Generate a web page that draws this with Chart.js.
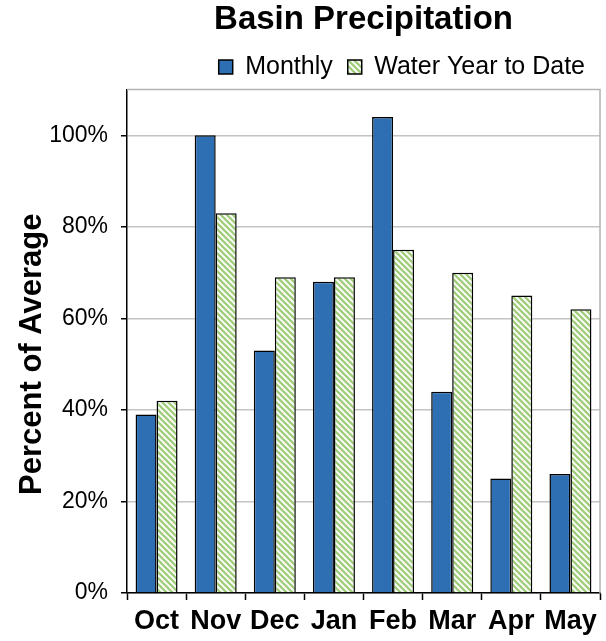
<!DOCTYPE html>
<html>
<head>
<meta charset="utf-8">
<script src="https://cdn.jsdelivr.net/npm/chart.js@4.4.1/dist/chart.umd.min.js"></script>
<style>
  html, body { margin: 0; padding: 0; background: #ffffff; }
  #wrap { width: 606px; height: 641px; }
</style>
</head>
<body>
<div id="wrap"><canvas id="chart" width="606" height="641"></canvas></div>
<script>
// Basin precipitation, percent of average
const months = ['Oct', 'Nov', 'Dec', 'Jan', 'Feb', 'Mar', 'Apr', 'May'];
const monthly = [39, 100, 53, 68, 104, 44, 25, 26];
const waterYearToDate = [42, 83, 69, 69, 75, 70, 65, 62];
const yTicks = [0, 20, 40, 60, 80, 100];

const FONT = "'Liberation Sans', Arial, sans-serif";

// Diagonal green hatch used for the water-year bars
function makeHatch() {
  const s = 6;
  const c = document.createElement('canvas');
  c.width = s; c.height = s;
  const g = c.getContext('2d');
  g.fillStyle = '#ffffff';
  g.fillRect(0, 0, s, s);
  g.strokeStyle = '#a2cd7c';
  g.lineWidth = 2.3;
  g.beginPath();
  g.moveTo(-1, -1); g.lineTo(s + 1, s + 1);
  g.moveTo(-1, s - 1); g.lineTo(1, s + 1);
  g.moveTo(s - 1, -1); g.lineTo(s + 1, 1);
  g.stroke();
  return g.createPattern(c, 'repeat');
}
const hatch = makeHatch();

// Gray frame on the top and right of the plot area
const frame = {
  id: 'frame',
  beforeDatasetsDraw(chart) {
    const { ctx, chartArea: a } = chart;
    ctx.save();
    ctx.strokeStyle = '#b3b3b3';
    ctx.lineWidth = 1.5;
    ctx.beginPath();
    ctx.moveTo(a.left, a.top);
    ctx.lineTo(a.right, a.top);
    ctx.lineTo(a.right, a.bottom);
    ctx.stroke();
    ctx.restore();
  }
};

new Chart(document.getElementById('chart'), {
  type: 'bar',
  data: {
    labels: months,
    datasets: [
      {
        label: 'Monthly',
        data: monthly,
        backgroundColor: '#2e6fb4',
        borderColor: '#000000',
        borderWidth: 1.5
      },
      {
        label: 'Water Year to Date',
        data: waterYearToDate,
        backgroundColor: hatch,
        borderColor: '#000000',
        borderWidth: 1.5
      }
    ]
  },
  options: {
    responsive: false,
    animation: false,
    devicePixelRatio: 1,
    layout: { padding: { top: 0, right: 6, bottom: 0, left: 0 } },
    datasets: { bar: { categoryPercentage: 0.71, barPercentage: 1.0 } },
    plugins: {
      title: {
        display: true,
        fullSize: false,
        text: 'Basin Precipitation',
        color: '#000000',
        font: { family: FONT, size: 33, weight: 'bold', lineHeight: 1.2 },
        padding: { top: 0, bottom: 0 }
      },
      legend: {
        display: true,
        position: 'top',
        fullSize: false,
        align: 'end',
        labels: {
          color: '#000000',
          font: { family: FONT, size: 25 },
          boxWidth: 14,
          boxHeight: 14,
          padding: 15
        }
      },
      tooltip: { enabled: false }
    },
    scales: {
      x: {
        offset: true,
        grid: {
          offset: true,
          drawOnChartArea: false,
          drawTicks: true,
          tickLength: 7,
          tickColor: '#000000',
          tickWidth: 1.5
        },
        border: { color: '#000000', width: 1.5 },
        ticks: {
          color: '#000000',
          padding: 5,
          maxRotation: 0,
          font: { family: FONT, size: 27, weight: 'bold' }
        },
        afterFit(scale) { scale.height = 48; }
      },
      y: {
        min: 0,
        max: 110,
        afterBuildTicks(scale) {
          scale.ticks = yTicks.map(v => ({ value: v }));
        },
        grid: {
          color: '#c4c4c4',
          lineWidth: 1.5,
          drawTicks: true,
          tickLength: 6,
          tickColor: '#000000',
          tickWidth: 1.5
        },
        border: { color: '#000000', width: 1.5 },
        ticks: {
          color: '#000000',
          padding: 13,
          font: { family: FONT, size: 23 },
          callback: v => v + '%'
        },
        title: {
          display: true,
          // trailing spaces nudge the rotated title toward the bottom of the axis
          text: 'Percent of Average   ',
          color: '#000000',
          font: { family: FONT, size: 31, weight: 'bold', lineHeight: 1.2 },
          padding: { top: 14, bottom: 0 }
        },
        afterFit(scale) { scale.width = 127; }
      }
    }
  },
  plugins: [frame]
});
</script>
</body>
</html>
